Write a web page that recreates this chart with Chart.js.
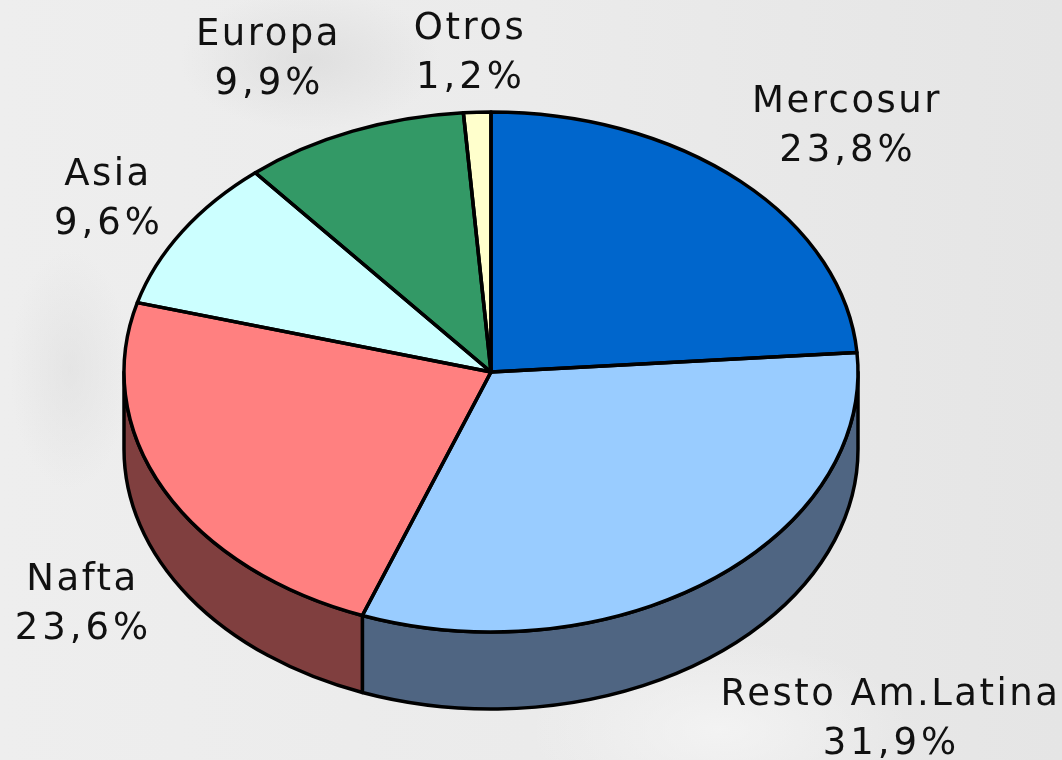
<!DOCTYPE html>
<html>
<head>
<meta charset="utf-8">
<title>Exportaciones por destino</title>
<script src="https://cdn.jsdelivr.net/npm/chart.js@4/dist/chart.umd.min.js"></script>
<style>
  html, body { margin: 0; padding: 0; width: 1062px; height: 760px; overflow: hidden; }
  body {
    background:
      radial-gradient(ellipse 130px 70px at 310px 60px, rgba(215,215,215,.6), rgba(215,215,215,0)),
      radial-gradient(ellipse 60px 120px at 70px 370px, rgba(220,220,220,.5), rgba(220,220,220,0)),
      radial-gradient(ellipse 190px 90px at 720px 730px, rgba(245,245,245,.8), rgba(245,245,245,0)),
      linear-gradient(90deg, #eeeeee 0%, #ebebeb 50%, #e5e5e5 100%);
  }
  canvas { display: block; }
</style>
</head>
<body>
<canvas id="pieChart" width="1062" height="760"></canvas>
<script>
const categories = ["Mercosur", "Resto Am.Latina", "Nafta", "Asia", "Europa", "Otros"];
const shares = [23.8, 31.9, 23.6, 9.6, 9.9, 1.2];
const topColors = ["#0066CC", "#99CCFF", "#FF8080", "#CCFFFF", "#339966", "#FFFFCC"];
const sideColors = ["#003366", "#4F6582", "#803F3F", "#668080", "#1A4D33", "#808066"];

// the pie is flattened to an ellipse and given a rim below it
const tilt = 0.7084;
const depth = 77;
const edge = 3.5;

// centre x, first baseline of each label, same order as categories
const labelAnchors = [[847, 112], [890.5, 705], [82.5, 590], [108, 185], [268.5, 45], [470, 39]];

function ellipseArc(ctx, arc, y, from, to, back) {
  ctx.ellipse(arc.x, y, arc.outerRadius, arc.outerRadius * tilt, 0, from, to, back);
}

const tiltedPie = {
  id: "tiltedPie",
  beforeDatasetsDraw(chart) {
    const ctx = chart.ctx;
    const arcs = chart.getDatasetMeta(0).data;
    // rim: only the part of each slice in the front half
    arcs.forEach((arc, i) => {
      const from = Math.max(arc.startAngle, 0);
      const to = Math.min(arc.endAngle, Math.PI);
      if (to <= from) return;
      ctx.beginPath();
      ellipseArc(ctx, arc, arc.y, from, to, false);
      ellipseArc(ctx, arc, arc.y + depth, to, from, true);
      ctx.closePath();
      ctx.fillStyle = sideColors[i];
      ctx.fill();
      ctx.lineWidth = edge;
      ctx.strokeStyle = "#000";
      ctx.lineJoin = "round";
      ctx.stroke();
    });
  },
  beforeDatasetDraw(chart) {
    const ctx = chart.ctx;
    const arc = chart.getDatasetMeta(0).data[0];
    ctx.save();
    ctx.translate(arc.x, arc.y);
    ctx.scale(1, tilt);
    ctx.translate(-arc.x, -arc.y);
  },
  afterDatasetDraw(chart) {
    chart.ctx.restore();
  },
  afterDatasetsDraw(chart) {
    const ctx = chart.ctx;
    chart.getDatasetMeta(0).data.forEach(arc => {
      ctx.beginPath();
      ctx.moveTo(arc.x, arc.y);
      ellipseArc(ctx, arc, arc.y, arc.startAngle, arc.endAngle, false);
      ctx.closePath();
      ctx.lineWidth = edge;
      ctx.strokeStyle = "#000";
      ctx.lineJoin = "round";
      ctx.stroke();
    });
  },
  afterDraw(chart) {
    const ctx = chart.ctx;
    ctx.save();
    ctx.font = '37px "DejaVu Sans"';
    ctx.textAlign = "center";
    ctx.textBaseline = "alphabetic";
    ctx.fillStyle = "#111";
    categories.forEach((name, i) => {
      const [x, y] = labelAnchors[i];
      ctx.letterSpacing = "2.5px";
      ctx.fillText(name, x, y);
      ctx.letterSpacing = "4px";
      ctx.fillText(shares[i].toFixed(1).replace(".", ",") + "%", x + 1, y + 49);
    });
    ctx.restore();
  }
};

new Chart(document.getElementById("pieChart").getContext("2d"), {
  type: "pie",
  data: {
    labels: categories,
    datasets: [{
      data: shares,
      backgroundColor: topColors,
      borderWidth: 0
    }]
  },
  options: {
    responsive: false,
    animation: false,
    events: [],
    layout: { padding: { left: 124, right: 204, top: 5, bottom: 21 } },
    plugins: {
      legend: { display: false },
      tooltip: { enabled: false }
    }
  },
  plugins: [tiltedPie]
});
</script>
</body>
</html>
